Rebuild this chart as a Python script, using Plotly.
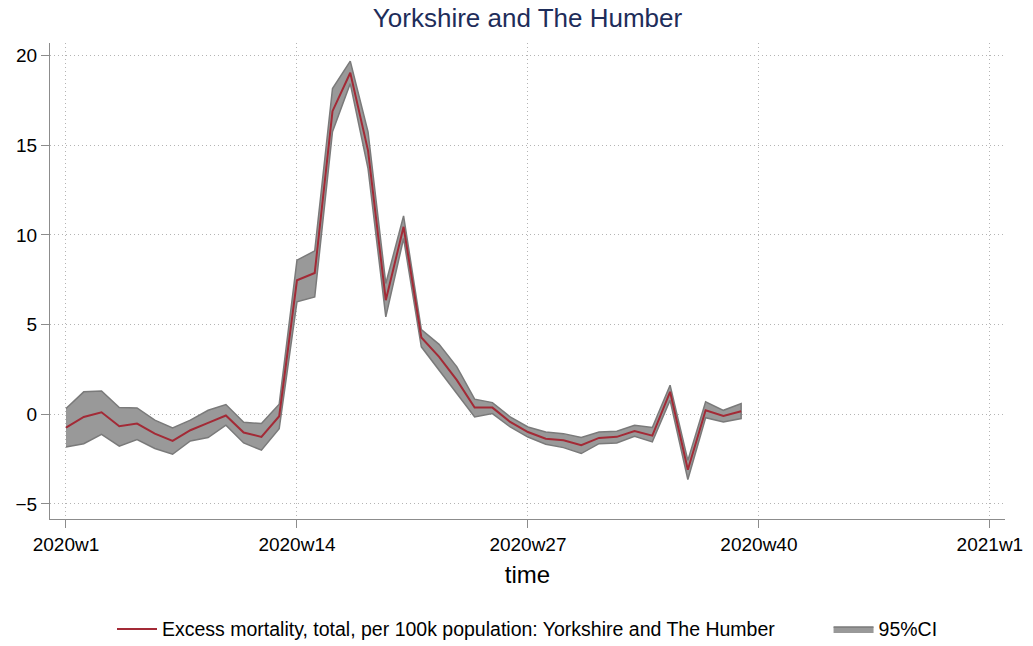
import plotly.graph_objects as go

# week index (0 = 2020w1)
weeks = list(range(39))
excess = [-0.74, -0.15, 0.11, -0.67, -0.52, -1.08, -1.49, -0.89, -0.48, -0.07,
          -1.02, -1.26, -0.11, 7.47, 7.88, 16.9, 19.04, 14.7, 6.36, 10.45,
          4.28, 3.2, 1.9, 0.37, 0.37, -0.43, -0.99, -1.36, -1.45, -1.73,
          -1.32, -1.26, -0.93, -1.19, 1.25, -3.09, 0.22, -0.09, 0.17]
upper = [0.32, 1.25, 1.30, 0.37, 0.35, -0.33, -0.76, -0.33, 0.22, 0.54,
         -0.45, -0.52, 0.56, 8.59, 9.11, 18.16, 19.69, 15.75, 7.29, 11.06,
         4.72, 3.9, 2.64, 0.84, 0.65, -0.15, -0.71, -0.99, -1.08, -1.30,
         -0.99, -0.95, -0.61, -0.74, 1.62, -2.57, 0.69, 0.22, 0.60]
lower = [-1.82, -1.64, -1.12, -1.78, -1.41, -1.91, -2.23, -1.49, -1.30, -0.61,
         -1.60, -2.0, -0.80, 6.27, 6.54, 15.75, 18.44, 13.7, 5.43, 9.8,
         3.76, 2.49, 1.15, -0.15, 0.04, -0.71, -1.27, -1.67, -1.86, -2.19,
         -1.64, -1.6, -1.23, -1.54, 0.78, -3.64, -0.19, -0.43, -0.24]

tick_vals = [0, 13, 26, 39, 52]
tick_text = ["2020w1", "2020w14", "2020w27", "2020w40", "2021w1"]
y_ticks = [-5, 0, 5, 10, 15, 20]

FONT = "Liberation Sans, Arial, Helvetica, sans-serif"

fig = go.Figure()
fig.add_trace(go.Scatter(
    x=weeks + weeks[::-1], y=upper + lower[::-1],
    fill="toself", fillcolor="#999999", mode="lines",
    line=dict(color="#7a7a7a", width=1.5),
    name="95%CI", legendrank=2, hoverinfo="skip"))
fig.add_trace(go.Scatter(
    x=weeks, y=excess, mode="lines",
    line=dict(color="#a32a36", width=2),
    name="Excess mortality, total, per 100k population: Yorkshire and The Humber"
         + "\u00a0" * 9,
    legendrank=1))

axis_common = dict(
    showline=True, linecolor="#8c8c8c", linewidth=1.3,
    ticks="outside", ticklen=8, tickcolor="#8c8c8c", tickwidth=1.3,
    showgrid=True, gridcolor="#b4b4b4", griddash="1px,3px", gridwidth=1,
    zeroline=False, automargin=False,
    tickfont=dict(size=19, color="#000000", family=FONT),
)

fig.update_layout(
    width=1033, height=646,
    paper_bgcolor="white", plot_bgcolor="white",
    font=dict(family=FONT, color="#000000"),
    margin=dict(l=50, r=28, t=43, b=127, autoexpand=False),
    title=dict(text="Yorkshire and The Humber", x=0.5, xref="paper", xanchor="center",
               y=0.972, yanchor="middle",
               font=dict(size=26, color="#1e2d5a", family=FONT)),
    xaxis=dict(range=[-0.9, 52.85], tickvals=tick_vals, ticktext=tick_text,
               title=dict(text="time", font=dict(size=24, family=FONT), standoff=12),
               **axis_common),
    yaxis=dict(range=[-5.84, 20.7], tickvals=y_ticks, **axis_common),
    legend=dict(orientation="h", x=0.5, xanchor="center",
                yref="container", y=0.026, yanchor="middle",
                font=dict(size=19.5, family=FONT), itemwidth=40),
    showlegend=True,
)

fig.write_html("out.html", config={"displayModeBar": False},
               post_script="document.body.style.margin='0';document.body.style.overflow='hidden';")
